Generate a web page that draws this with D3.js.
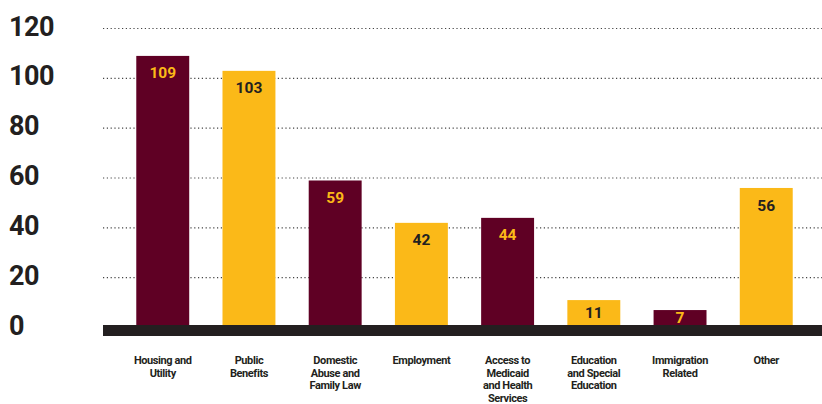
<!DOCTYPE html>
<html>
<head>
<meta charset="utf-8">
<script src="https://cdn.jsdelivr.net/npm/d3@7"></script>
<style>
  body { margin: 0; background: #fff; }
  text { font-family: Roboto, "Open Sans", sans-serif; font-weight: 700; fill: #231f20; }
</style>
</head>
<body>
<div id="viz-container"></div>
<script>
let categories = ["Housing and Utility", "Public Benefits", "Domestic Abuse and Family Law", "Employment",
                  "Access to Medicaid and Health Services", "Education and Special Education",
                  "Immigration Related", "Other"];
let labelLines = [["Housing and", "Utility"], ["Public", "Benefits"], ["Domestic", "Abuse and", "Family Law"],
                  ["Employment"], ["Access to", "Medicaid", "and Health", "Services"],
                  ["Education", "and Special", "Education"], ["Immigration", "Related"], ["Other"]];
let values = [109, 103, 59, 42, 44, 11, 7, 56];
let yTicks = [0, 20, 40, 60, 80, 100, 120];

let maroon = "#5f0024";
let gold = "#fbb918";
let ink = "#231f20";

let viz = d3.select("#viz-container")
              .append("svg")
                .attr("width", 822)
                .attr("height", 404)
;

let x = d3.scaleBand().domain(categories).range([103, 826]).padding(0.386);
let y = d3.scaleLinear().domain([0, 120]).range([327.5, 28.5]);

function barColor(d, i){
  return i % 2 == 0 ? maroon : gold;
}

// dotted grid lines
viz.selectAll("line.grid").data(yTicks.filter(d => d > 0)).enter().append("line")
    .attr("class", "grid")
    .attr("x1", 103)
    .attr("x2", 822)
    .attr("y1", d => y(d))
    .attr("y2", d => y(d))
    .attr("stroke", "#444")
    .attr("stroke-width", 1.2)
    .attr("stroke-dasharray", "1.2,2.6")
;

// y tick labels
viz.selectAll("text.ytick").data(yTicks).enter().append("text")
    .attr("class", "ytick")
    .attr("x", 9)
    .attr("y", d => y(d) + 7)
    .attr("font-size", 27)
    .attr("letter-spacing", -0.5)
    .text(d => d)
;

// bars
viz.selectAll("rect.bar").data(values).enter().append("rect")
    .attr("class", "bar")
    .attr("x", (d, i) => x(categories[i]))
    .attr("y", d => y(d))
    .attr("width", x.bandwidth())
    .attr("height", d => y(0) - y(d))
    .attr("fill", barColor)
;

// baseline
viz.append("rect")
    .attr("x", 103)
    .attr("y", 325)
    .attr("width", 719)
    .attr("height", 11)
    .attr("fill", ink)
;

// value labels
function labelY(d){
  let top = y(d);
  return Math.min(top + 17, (top + 325) / 2 - 0.5);
}

viz.selectAll("text.val").data(values).enter().append("text")
    .attr("class", "val")
    .attr("x", (d, i) => x(categories[i]) + x.bandwidth() / 2)
    .attr("y", labelY)
    .attr("dy", "0.36em")
    .attr("text-anchor", "middle")
    .attr("font-size", 15.5)
    .style("fill", (d, i) => i % 2 == 0 ? gold : ink)
    .text(d => d)
;

// category labels
let cats = viz.selectAll("text.cat").data(labelLines).enter().append("text")
    .attr("class", "cat")
    .attr("text-anchor", "middle")
    .attr("font-size", 11)
    .attr("letter-spacing", -0.4)
;

cats.selectAll("tspan").data((d, i) => d.map(t => ({t: t, i: i}))).enter().append("tspan")
    .attr("x", d => x(categories[d.i]) + x.bandwidth() / 2)
    .attr("y", (d, j) => 364 + j * 12.6)
    .text(d => d.t)
;
</script>
</body>
</html>
